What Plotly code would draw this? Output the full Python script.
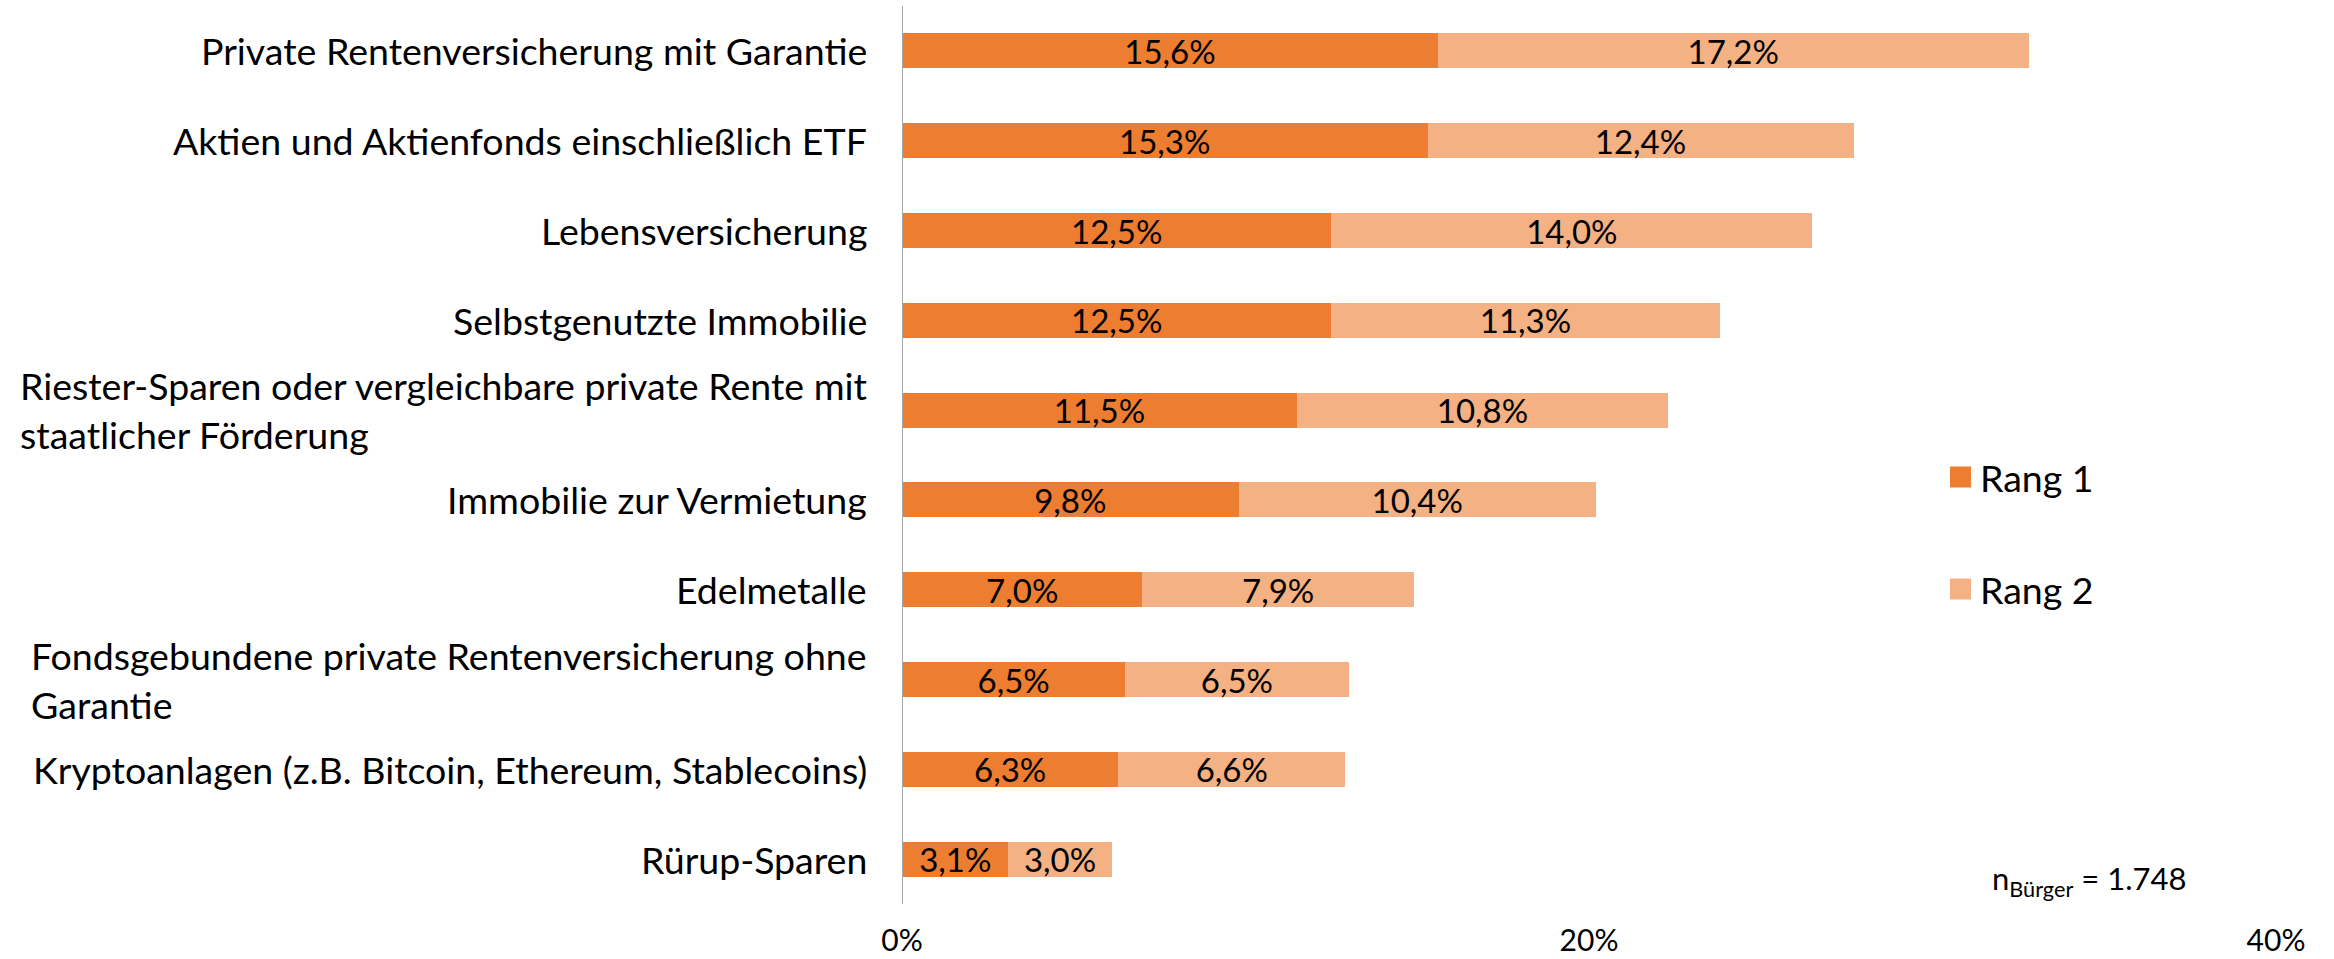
import plotly.graph_objects as go

categories = [
    "Private Rentenversicherung mit Garantie",
    "Aktien und Aktienfonds einschließlich ETF",
    "Lebensversicherung",
    "Selbstgenutzte Immobilie",
    "Riester-Sparen oder vergleichbare private Rente mit<br>staatlicher Förderung",
    "Immobilie zur Vermietung",
    "Edelmetalle",
    "Fondsgebundene private Rentenversicherung ohne<br>Garantie",
    "Kryptoanlagen (z.B. Bitcoin, Ethereum, Stablecoins)",
    "Rürup-Sparen",
]
rang1 = [15.6, 15.3, 12.5, 12.5, 11.5, 9.8, 7.0, 6.5, 6.3, 3.1]
rang2 = [17.2, 12.4, 14.0, 11.3, 10.8, 10.4, 7.9, 6.5, 6.6, 3.0]
series_names = ["Rang 1", "Rang 2"]
colors = ["#ED7D31", "#F4B183"]
x_ticks = [0, 20, 40]
x_ticklabels = ["0%", "20%", "40%"]
n_text = "n<sub>Bürger</sub> = 1.748"

FONT = "Lato"
W, H = 2334, 959
L, R, T, B = 902, 58, 6, 55
PW, PH = W - L - R, H - T - B

def fmt(v):
    return f"{v:.1f}".replace(".", ",") + "%"

def px_x(px):
    return (px - L) / PW

def px_y(py):
    return (H - B - py) / PH

fig = go.Figure()
ids = list(range(len(categories)))
for name, vals, col in zip(series_names, [rang1, rang2], colors):
    fig.add_trace(go.Bar(
        y=ids, x=vals, orientation="h", name=name,
        marker=dict(color=col, line=dict(width=0)),
        text=[fmt(v) for v in vals], textposition="inside",
        insidetextanchor="middle", textangle=0, constraintext="none",
        textfont=dict(family=FONT, size=33, color="#000000"),
        showlegend=False, width=0.39,
    ))

for i, c in enumerate(categories):
    fig.add_annotation(
        x=0, y=i, xref="x", yref="y", text=c, showarrow=False,
        xanchor="right", yanchor="middle", align="left", xshift=-33,
        font=dict(family=FONT, size=37.5, color="#000000"),
    )

# legend (squares + labels)
legend_y = [477, 589]
shapes = [dict(type="line", xref="x", yref="paper", x0=0, x1=0, y0=0, y1=1,
               line=dict(color="#A6A6A6", width=2))]
for name, col, ly in zip(series_names, colors, legend_y):
    shapes.append(dict(type="rect", xref="paper", yref="paper",
                       x0=px_x(1950), x1=px_x(1971), y0=px_y(ly + 10.5), y1=px_y(ly - 10.5),
                       fillcolor=col, line=dict(width=0)))
    fig.add_annotation(x=px_x(1978), y=px_y(ly), xref="paper", yref="paper",
                       text=name, showarrow=False, xanchor="left", yanchor="middle",
                       font=dict(family=FONT, size=37.5, color="#000000"))

fig.add_annotation(
    x=px_x(1990), y=px_y(880), xref="paper", yref="paper", text=n_text, showarrow=False,
    font=dict(family=FONT, size=31, color="#000000"), xanchor="left", yanchor="middle",
)

fig.update_layout(
    width=W, height=H,
    margin=dict(l=L, r=R, t=T, b=B),
    barmode="stack",
    plot_bgcolor="white", paper_bgcolor="white",
    font=dict(family=FONT, color="#000000"),
    showlegend=False,
    xaxis=dict(range=[0, 40], tickvals=x_ticks, ticktext=x_ticklabels,
               showgrid=False, zeroline=False, showline=False, ticks="",
               tickfont=dict(family=FONT, size=30, color="#000000"),
               ticklabelstandoff=16, fixedrange=True, automargin=False),
    yaxis=dict(range=[9.5, -0.5], showticklabels=False, showgrid=False,
               zeroline=False, showline=False, ticks="", fixedrange=True,
               automargin=False),
    shapes=shapes,
)

fig.write_html("out.html", config={"displayModeBar": False},
               post_script="document.body.style.margin='0';")
